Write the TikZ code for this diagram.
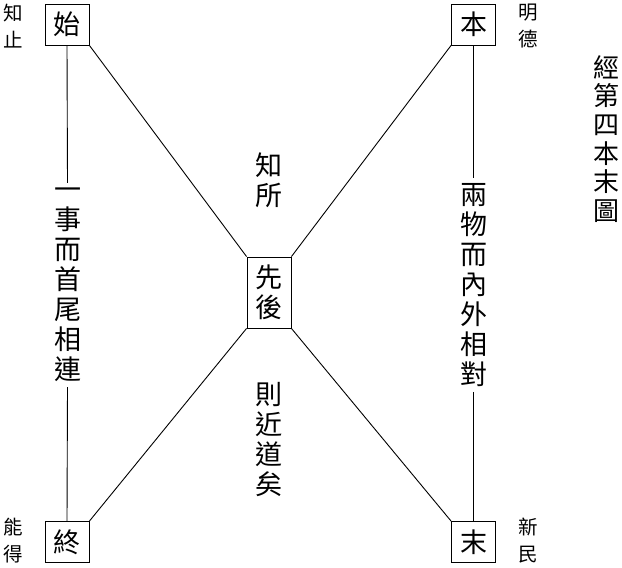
\documentclass[tikz,border=0pt]{standalone}
\usepackage{fontspec}
\newfontfamily\cjk{Noto Sans CJK TC}
\begin{document}
\begin{tikzpicture}[x=1pt,y=-1pt,
  box/.style={draw,line width=0.9pt,inner sep=0pt,minimum width=44pt,font=\cjk\fontsize{27}{30}\selectfont,align=center},
  vlabel/.style={inner xsep=0pt,inner ysep=5pt,font=\cjk\fontsize{27}{30}\selectfont,align=center},
  small/.style={inner sep=0pt,font=\cjk\fontsize{19.5}{27}\selectfont,align=center},
  title/.style={inner sep=0pt,font=\cjk\fontsize{26}{28.7}\selectfont,align=center},
  link/.style={line width=0.9pt}]
\useasboundingbox (0,0) rectangle (622,568);
\node[box,minimum height=41pt] (shi) at (67,24.5) {始};
\node[box,minimum height=41pt] (ben) at (473.5,24.5) {本};
\node[box,minimum height=41pt] (zhong) at (67,542) {終};
\node[box,minimum height=41pt] (mo) at (473.5,542) {末};
\node[box,minimum height=71pt] (xh) at (269,292.5) {先\\後};
\node[vlabel] (L) at (67.5,285) {一\\事\\而\\首\\尾\\相\\連};
\node[vlabel] (R) at (473.5,285) {兩\\物\\而\\內\\外\\相\\對};
\node[vlabel] (zs) at (269,180) {知\\所};
\node[vlabel] (zj) at (269,440) {則\\近\\道\\矣};
\node[title] (t) at (606,139) {經\\第\\四\\本\\末\\圖};
\node[small] (a) at (13,26) {知\\止};
\node[small] (b) at (528,26) {明\\德};
\node[small] (c) at (13,541) {能\\得};
\node[small] (d) at (528,541) {新\\民};
\draw[link] (shi.south) -- (L.north);
\draw[link] (L.south) -- (zhong.north);
\draw[link] (ben.south) -- (R.north);
\draw[link] (R.south) -- (mo.north);
\draw[link] (shi.south east) -- (xh.north west);
\draw[link] (ben.south west) -- (xh.north east);
\draw[link] (xh.south west) -- (zhong.north east);
\draw[link] (xh.south east) -- (mo.north west);
\end{tikzpicture}
\end{document}
